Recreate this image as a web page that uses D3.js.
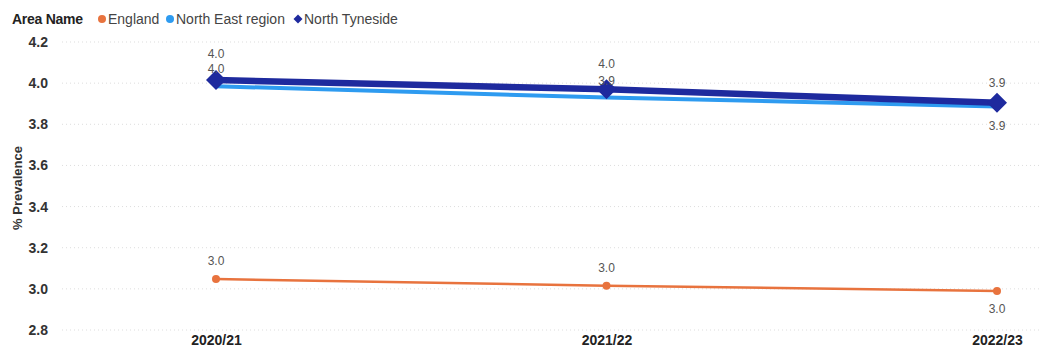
<!DOCTYPE html>
<html><head><meta charset="utf-8">
<script src="https://cdn.jsdelivr.net/npm/d3@7"></script>
<style>body{margin:0;background:#fff;font-family:Arial,"Liberation Sans",sans-serif;}</style>
</head><body><svg id="c" width="1044" height="350"></svg>
<script>
const categories = ["2020/21","2021/22","2022/23"];
const seriesNames = ["England","North East region","North Tyneside"];
const england = [3.048, 3.015, 2.99];
const northEast = [3.985, 3.93, 3.887];
const northTyneside = [4.015, 3.97, 3.905];
const yTicks = [2.8,3.0,3.2,3.4,3.6,3.8,4.0,4.2];

const FF = "Arial,'Liberation Sans',sans-serif";
const svg = d3.select("#c");
const x = d3.scalePoint().domain(categories).range([216, 997]);
const y = d3.scaleLinear().domain([2.8, 4.2]).range([330, 42]);

// grid
svg.append("g").selectAll("line").data(yTicks).join("line")
  .attr("x1", 62).attr("x2", 1040).attr("y1", d=>y(d)).attr("y2", d=>y(d))
  .attr("stroke", "#ddd").attr("stroke-dasharray", "1,3").attr("stroke-width",1);

// y axis
const ya = svg.append("g").attr("transform","translate(51,0)")
  .call(d3.axisLeft(y).tickValues(yTicks).tickFormat(d3.format(".1f")).tickSize(0));
ya.select(".domain").remove();
ya.selectAll("text").attr("font-size",14).attr("font-weight","bold").attr("fill","#333")
  .attr("font-family",FF).attr("dy","0.32em");

// x axis
const xa = svg.append("g").attr("transform","translate(0,337)")
  .call(d3.axisBottom(x).tickSize(0));
xa.select(".domain").remove();
xa.selectAll("text").attr("font-size",14).attr("font-weight","bold").attr("fill","#222")
  .attr("font-family",FF).attr("dy","0.35em");

svg.append("text").attr("transform","translate(22,188) rotate(-90)")
  .attr("text-anchor","middle").attr("font-size",13).attr("font-weight","bold").attr("fill","#333")
  .attr("font-family",FF).text("% Prevalence");

const line = d3.line().x((d,i)=>x(categories[i])).y(d=>y(d));
const colors = ["#E8733E","#2E9BF0","#1E2A9E"];

// England
svg.append("path").datum(england).attr("d",line).attr("fill","none").attr("stroke",colors[0]).attr("stroke-width",2.5);
svg.selectAll(".ec").data(england).join("circle").attr("cx",(d,i)=>x(categories[i])).attr("cy",d=>y(d)).attr("r",4).attr("fill",colors[0]);
// North East
svg.append("path").datum(northEast).attr("d",line).attr("fill","none").attr("stroke",colors[1]).attr("stroke-width",4);
// North Tyneside
svg.append("path").datum(northTyneside).attr("d",line).attr("fill","none").attr("stroke",colors[2]).attr("stroke-width",6.5);
svg.selectAll(".nt").data(northTyneside).join("path")
  .attr("transform",(d,i)=>`translate(${x(categories[i])},${y(d)})`)
  .attr("d","M0,-10L10,0L0,10L-10,0Z").attr("fill",colors[2]);

// data labels
const fmt = d3.format(".1f");
const lab = (arr, offs) => arr.forEach((d,i)=>{
  svg.append("text").attr("x", x(categories[i])).attr("y", y(d)+offs[i])
    .attr("text-anchor","middle").attr("font-size",12).attr("font-family",FF).attr("fill","#555").text(fmt(d));
});
lab(northTyneside, [-22, -21, -16]);
lab(northEast, [-13, -13, 24]);
lab(england, [-14, -14, 22]);

// legend
const lg = svg.append("g").attr("font-size",14).attr("font-family",FF);
lg.append("text").attr("x",12).attr("y",24).attr("font-weight","bold").attr("fill","#222").attr("textLength",71).text("Area Name");
const lx = [102, 170, 298];
seriesNames.forEach((n,i)=>{
  if (i<2) lg.append("circle").attr("cx",lx[i]).attr("cy",19).attr("r",4).attr("fill",colors[i]);
  else lg.append("path").attr("transform",`translate(${lx[i]},19)`).attr("d","M0,-4.5L4.5,0L0,4.5L-4.5,0Z").attr("fill",colors[i]);
  lg.append("text").attr("x",lx[i]+6).attr("y",24).attr("fill","#444").text(n);
});
</script></body></html>
